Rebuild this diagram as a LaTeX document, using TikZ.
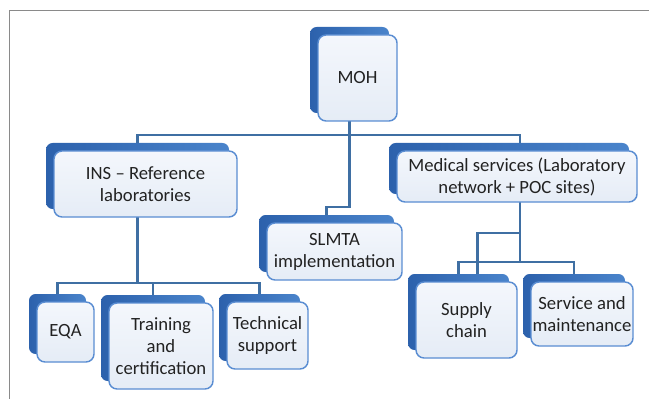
\documentclass[tikz,border=0pt]{standalone}
\usepackage{fontspec}
\setmainfont{Carlito}
\usetikzlibrary{backgrounds,calc}
\definecolor{connc}{HTML}{3F6FA3}
\definecolor{frontd}{HTML}{5A8DD2}
\definecolor{backl}{HTML}{2C61AC}
\definecolor{backr}{HTML}{4A84CB}
\definecolor{frontt}{HTML}{F4F7FC}
\definecolor{frontb}{HTML}{E5ECF6}
\definecolor{framec}{HTML}{8A8A8A}
\definecolor{txt}{HTML}{222222}
\tikzset{
  backbox/.style={rounded corners=5pt, left color=backl, right color=backr, draw=none, inner sep=0pt, outer sep=0pt},
  frontbox/.style={rounded corners=6pt, top color=frontt, bottom color=frontb, draw=frontd, line width=1.1pt, inner sep=0pt, outer sep=0pt, align=center, text=txt, font=\fontsize{14}{16.5}\selectfont},
  conn/.style={draw=connc, line width=2pt},
  framel/.style={draw=framec, line width=1.1pt}
}
\newcommand\obox[6]{%
  \node[backbox, minimum width=#4*0.75pt, minimum height=#5*0.75pt] (#1b) at (#2-8,#3-8) {};
  \node[frontbox, minimum width=#4*0.75pt, minimum height=#5*0.75pt] (#1) at (#2,#3) {#6};}
\begin{document}
\begin{tikzpicture}[x=0.75pt, y=-0.75pt]
\useasboundingbox (0,0) rectangle (649,399);
\obox{moh}{357.5}{78}{79}{86}{MOH}
\obox{ins}{145.5}{184}{183}{66}{INS – Reference\\laboratories}
\obox{med}{517}{176.5}{240}{51}{Medical services (Laboratory\\network + POC sites)}
\obox{slmta}{334.5}{251.5}{135}{57}{SLMTA\\implementation}
\obox{eqa}{65.5}{332}{57}{60}{EQA}
\obox{train}{161}{346}{104}{86}{Training\\and\\certification}
\obox{tech}{267.5}{335.5}{81}{67}{Technical\\support}
\obox{sup}{466.5}{320}{101}{76}{Supply\\chain}
\obox{serv}{582}{314}{102}{64}{Service and\\maintenance}
\begin{scope}[on background layer]
  \draw[framel] (9.5,399) -- (9.5,10.5) -- (649,10.5);
  % MOH to SLMTA
  \draw[conn] (mohb.south) |- ([yshift=6pt]slmtab.north) -- (slmtab.north);
  % top bus
  \draw[conn] (insb.north) -- ++(0,-8) -| ([xshift=8.25pt]medb.north);
  % INS children
  \coordinate (eqat) at ([yshift=8.25pt]eqab.north);
  \draw[conn] (insb.south) -- (eqat -| insb.south);
  \draw[conn] (eqab.north) -- (eqat) -| (techb.north);
  \draw[conn] (trainb.north) -- (eqat -| trainb.north);
  % Medical children
  \coordinate (mtap) at ([xshift=2.25pt]med.south);
  \coordinate (busr) at ([yshift=9pt]supb.north);
  \draw[conn] (mtap) -- (busr -| mtap);
  \draw[conn] (supb.north) -- (busr) -| (servb.north);
  \coordinate (mid) at ([yshift=-23.25pt]mtap);
  \draw[conn] (mid) -| ([xshift=14pt]supb.north);
\end{scope}
\end{tikzpicture}
\end{document}
